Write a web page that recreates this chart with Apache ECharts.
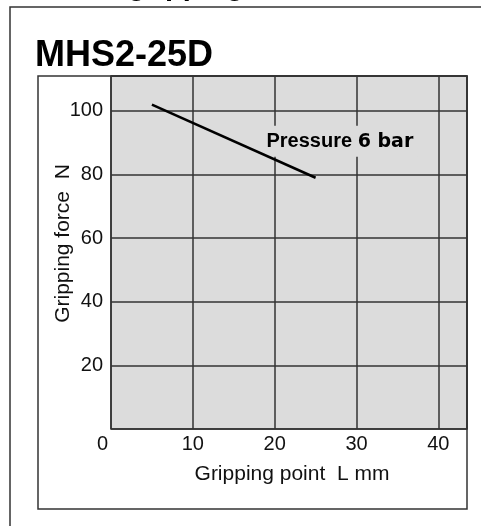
<!DOCTYPE html>
<html><head><meta charset="utf-8">
<script src="https://cdn.jsdelivr.net/npm/echarts@6/dist/echarts.min.js"></script>
<style>html,body{margin:0;padding:0;background:#fff}#c{width:481px;height:526px}</style>
</head><body><div id="c"></div>
<script>
// ---- data ----
const gripPoint = [5, 25];          // L mm
const gripForce = [102, 79];        // N
const xTicks = [0, 10, 20, 30, 40];
const yTicks = [20, 40, 60, 80, 100];
const chartTitle = 'MHS2-25D';
const topTitle = 'gripping';
const labelParts = ['Pressure ', '6 bar'];
const labelAnchor = [19, 90.5];
const xName = 'Gripping point  L mm';
const yName = 'Gripping force  N';

const FONT = '"Liberation Sans", Arial, Helvetica, sans-serif';
const chart = echarts.init(document.getElementById('c'), null, {renderer: 'canvas'});
const seriesData = gripPoint.map((x, i) => [x, gripForce[i]]);

function staticGraphics() {
  return [
    {type: 'rect', z: 0, silent: true, shape: {x: 10, y: 7, width: 520, height: 560},
     style: {fill: 'none', stroke: '#333', lineWidth: 1.5}},
    {type: 'rect', z: 0, silent: true, shape: {x: 38, y: 76, width: 429, height: 433},
     style: {fill: 'none', stroke: '#333', lineWidth: 1.5}},
    {type: 'text', z: 5, left: 35, top: 38,
     style: {text: chartTitle, font: 'bold 36px ' + FONT, fill: '#000'}},
    {type: 'text', z: 5, left: 128, top: -28,
     style: {text: topTitle, font: 'bold 29px ' + FONT, fill: '#000'}}
  ];
}

const option = {
  backgroundColor: '#fff',
  animation: false,
  grid: {left: 111, top: 76, right: 14, bottom: 97, show: true,
         backgroundColor: '#dcdcdc', borderColor: '#333', borderWidth: 1.5},
  xAxis: {
    type: 'value', min: 0, max: 43.5, interval: 10,
    axisLine: {show: false}, axisTick: {show: false},
    splitLine: {show: true, lineStyle: {color: '#333', width: 1.5}},
    axisLabel: {
      margin: 5, color: '#111', fontFamily: FONT, fontSize: 20,
      formatter: v => xTicks.includes(v) ? (v === 0 ? '{z|0}' : String(v)) : '',
      rich: {z: {padding: [0, 17, 0, 0], fontFamily: FONT, fontSize: 20, color: '#111'}}
    },
    name: xName, nameLocation: 'middle', nameGap: 35, nameMoveOverlap: false,
    nameTextStyle: {fontFamily: FONT, fontSize: 21, color: '#111', padding: [0, 0, 0, 6]}
  },
  yAxis: {
    type: 'value', min: 0, max: 111, interval: 20,
    axisLine: {show: false}, axisTick: {show: false},
    splitLine: {show: true, lineStyle: {color: '#333', width: 1.5}},
    axisLabel: {
      margin: 8, color: '#111', fontFamily: FONT, fontSize: 20,
      formatter: v => yTicks.includes(v) ? String(v) : ''
    },
    name: yName, nameLocation: 'middle', nameGap: 37, nameRotate: 90, nameMoveOverlap: false,
    nameTextStyle: {fontFamily: FONT, fontSize: 21, color: '#111', padding: [0, 0, 0, 18]}
  },
  series: [{
    type: 'line', data: seriesData, symbol: 'none', z: 3,
    lineStyle: {color: '#000', width: 2.5}
  }],
  graphic: staticGraphics()
};
chart.setOption(option);

const p = chart.convertToPixel({gridIndex: 0}, labelAnchor);
chart.setOption({graphic: staticGraphics().concat([
  {type: 'text', z: 1, silent: true, x: p[0] - 4, y: p[1],
   style: {
     text: '{a|' + labelParts[0] + '}{b|' + labelParts[1] + '}',
     verticalAlign: 'middle', align: 'left',
     backgroundColor: '#dcdcdc', padding: [6, 4, 5, 4],
     rich: {
       a: {fontFamily: FONT, fontWeight: 'bold', fontSize: 20, fill: '#000'},
       b: {fontFamily: '"DejaVu Sans", sans-serif', fontWeight: 'bold', fontSize: 19, fill: '#000',
           padding: [1, 0, 0, 0]}
     }
   }}
])}, {replaceMerge: ['graphic']});
</script></body></html>
